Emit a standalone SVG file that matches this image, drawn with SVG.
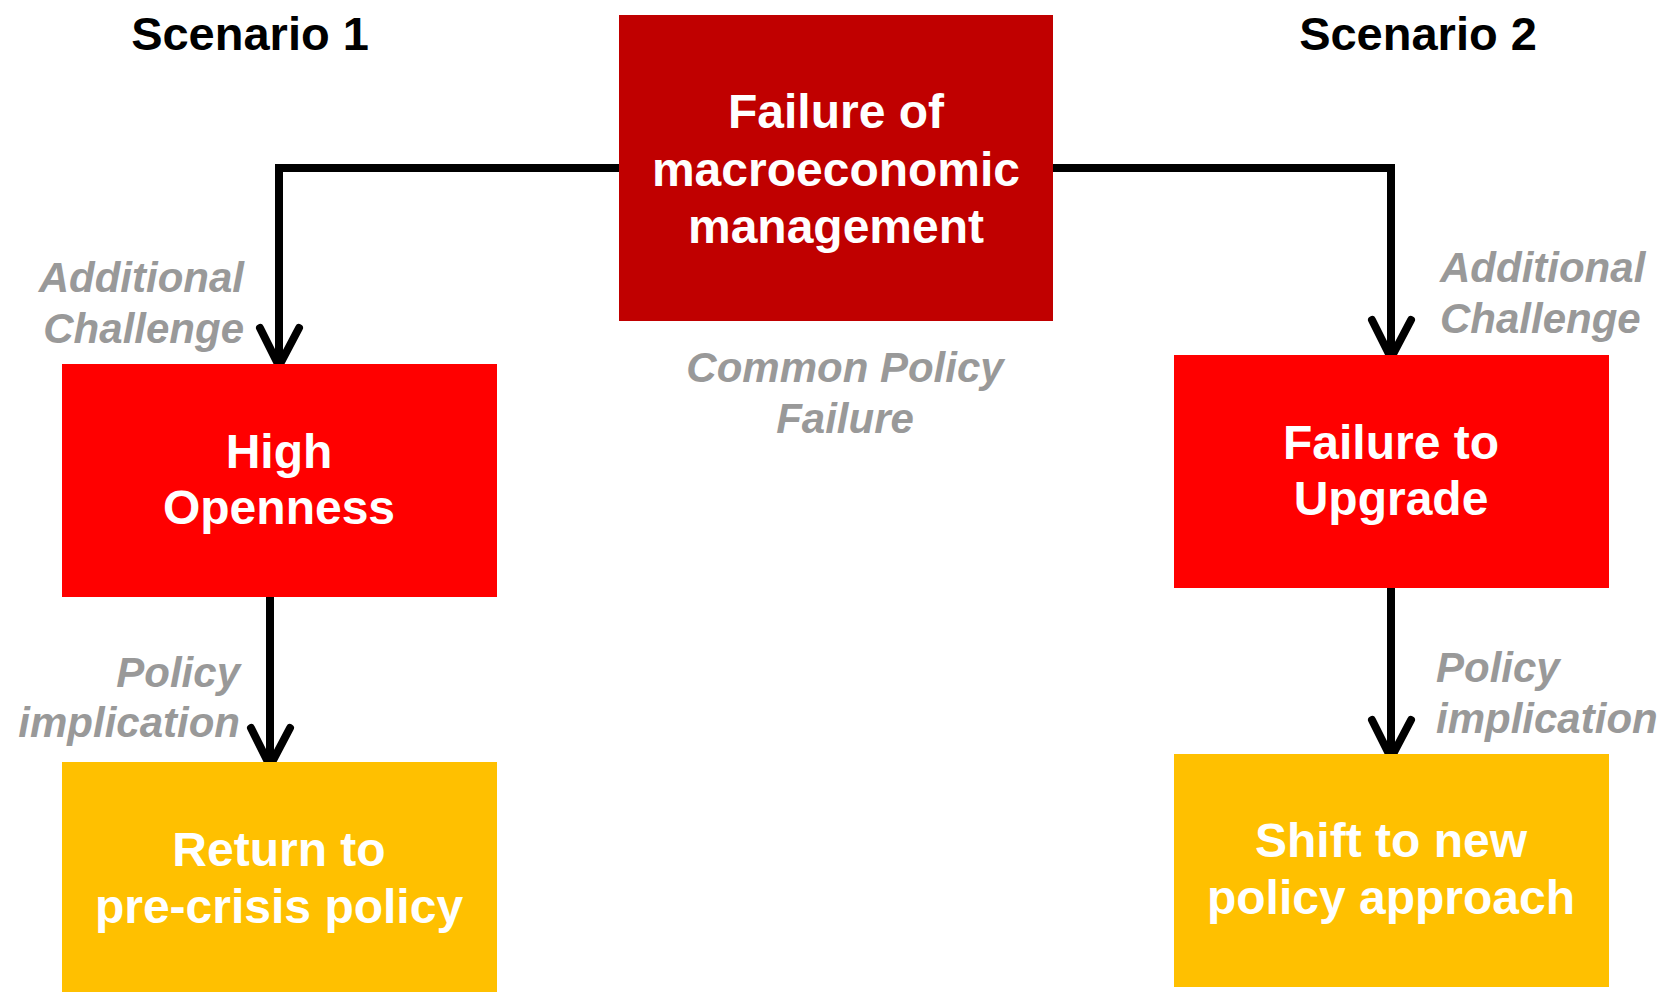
<svg xmlns="http://www.w3.org/2000/svg" width="1664" height="992" viewBox="0 0 1664 992">
<style>
  text { font-family: "Liberation Sans", Arial, sans-serif; font-weight: bold; }
  .title { font-size: 47px; fill: #000; text-anchor: middle; }
  .box { font-size: 48px; fill: #fff; text-anchor: middle; }
  .note { font-size: 42px; fill: #999999; font-style: italic; }
  .conn { fill: none; stroke: #000; stroke-width: 8; stroke-linejoin: miter; }
  .head { fill: none; stroke: #000; stroke-width: 8; stroke-linecap: round; stroke-linejoin: round; }
</style>
<rect width="1664" height="992" fill="#fff"/>

<g id="labels">
  <text class="title" x="250" y="50">Scenario 1</text>
  <text class="title" x="1418" y="50">Scenario 2</text>
  <text class="note" x="845" y="382" text-anchor="middle">Common Policy</text>
  <text class="note" x="845" y="433" text-anchor="middle">Failure</text>
  <text class="note" x="244" y="292" text-anchor="end">Additional</text>
  <text class="note" x="244" y="343" text-anchor="end">Challenge</text>
  <text class="note" x="1440" y="282">Additional</text>
  <text class="note" x="1440" y="333">Challenge</text>
  <text class="note" x="240" y="687" text-anchor="end">Policy</text>
  <text class="note" x="240" y="737" text-anchor="end">implication</text>
  <text class="note" x="1436" y="682">Policy</text>
  <text class="note" x="1436" y="733">implication</text>
</g>

<g id="connectors">
  <path class="conn" d="M619,168 H279 V364"/>
  <path class="head" d="M260,328 L279,366 L299,328"/>
  <path class="conn" d="M1053,168 H1391 V356"/>
  <path class="head" d="M1372,320 L1391,358 L1411,320"/>
  <path class="conn" d="M270,597 V764"/>
  <path class="head" d="M251,728 L270,766 L290,728"/>
  <path class="conn" d="M1391,588 V756"/>
  <path class="head" d="M1372,720 L1391,758 L1411,720"/>
</g>

<g id="node-macro">
  <rect x="619" y="15" width="434" height="306" fill="#C00000"/>
  <text class="box" x="836" y="128">Failure of</text>
  <text class="box" x="836" y="186">macroeconomic</text>
  <text class="box" x="836" y="243">management</text>
</g>

<g id="node-openness">
  <rect x="62" y="364" width="435" height="233" fill="#FF0000"/>
  <text class="box" x="279" y="468">High</text>
  <text class="box" x="279" y="524">Openness</text>
</g>

<g id="node-upgrade">
  <rect x="1174" y="355" width="435" height="233" fill="#FF0000"/>
  <text class="box" x="1391" y="459">Failure to</text>
  <text class="box" x="1391" y="515">Upgrade</text>
</g>

<g id="node-return">
  <rect x="62" y="762" width="435" height="230" fill="#FFC000"/>
  <text class="box" x="279" y="866">Return to</text>
  <text class="box" x="279" y="923">pre-crisis policy</text>
</g>

<g id="node-shift">
  <rect x="1174" y="754" width="435" height="233" fill="#FFC000"/>
  <text class="box" x="1391" y="857">Shift to new</text>
  <text class="box" x="1391" y="914">policy approach</text>
</g>
</svg>
